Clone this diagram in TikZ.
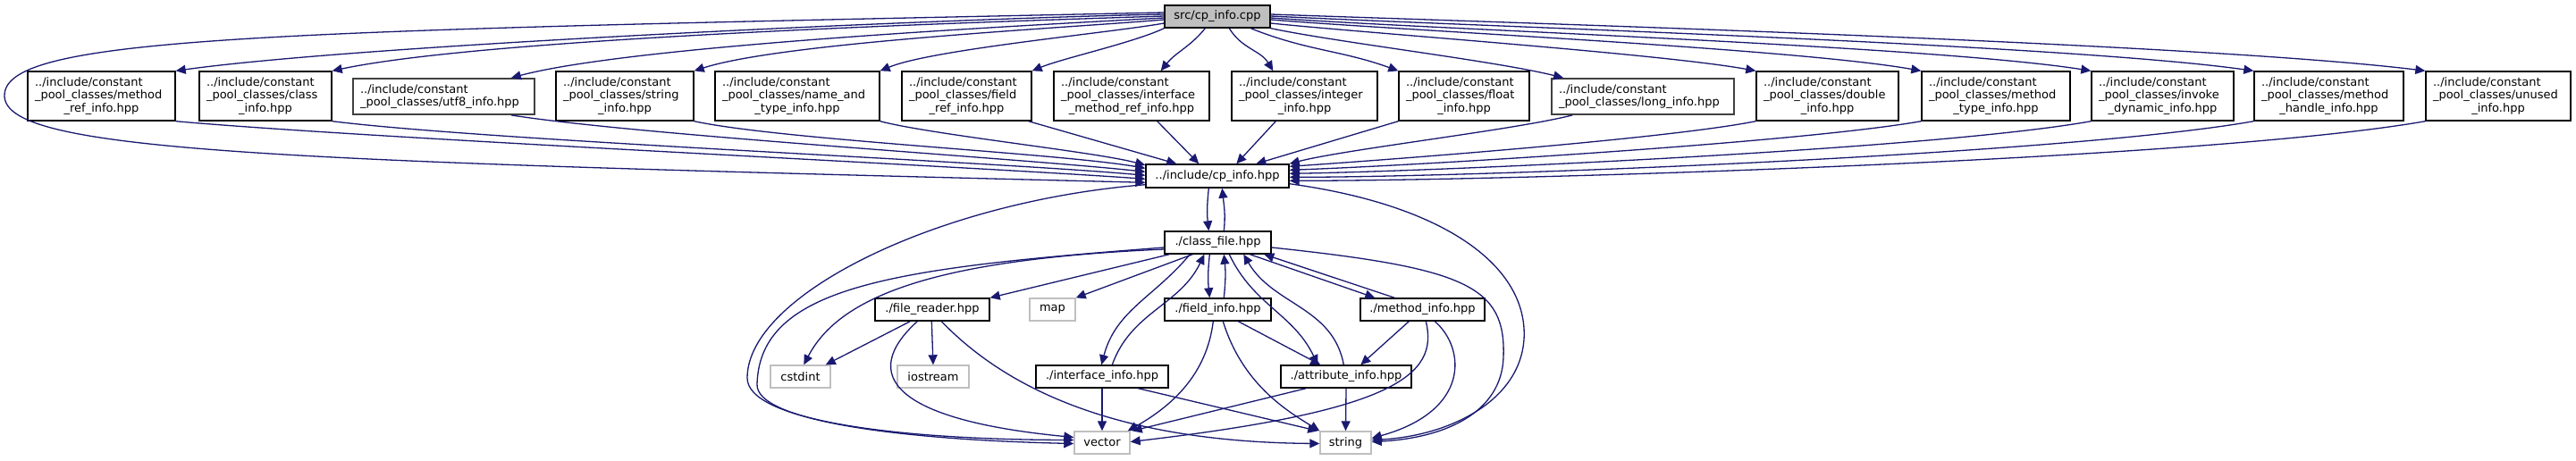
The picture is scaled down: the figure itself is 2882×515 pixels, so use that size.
\documentclass[tikz,border=0pt]{standalone}
\usepackage{fontspec}
\setmainfont{DejaVu Sans}
\usetikzlibrary{arrows.meta,calc}
\definecolor{edgec}{HTML}{191970}
\definecolor{gline}{HTML}{BFBFBF}
\definecolor{dline}{HTML}{404040}
\definecolor{cppfill}{HTML}{BFBFBF}
\newcommand\mlab[3]{\parindent=0pt\raggedright #1\\#2\par\centering #3\par}
\newcommand\tlab[2]{\parindent=0pt\raggedright #1\\#2\par}
\begin{document}
\begin{tikzpicture}[x=1pt,y=1pt,
 fb/.style={rectangle, draw=black, line width=1.4pt, fill=white, inner xsep=8pt, inner ysep=1pt, font=\fontsize{13}{14.5}\selectfont},
 gb/.style={fb, draw=gline},
 db/.style={fb, draw=dline, line width=1.7pt},
 one/.style={minimum height=25, inner xsep=0},
 e/.style={draw=edgec, line width=1.3pt, -{Triangle[length=11pt,width=10pt]}},
]
\fill[white] (0,0) rectangle (2882,-515);
\useasboundingbox (0,0) rectangle (2882,-515);

% top
\node[fb, one, fill=cppfill, minimum width=118] (cpp) at (1362,-18.5) {src/cp\_info.cpp};

% row 2
\node[fb, text width=149, minimum height=55] (mref) at (113.5,-107.5) {\mlab{../include/constant}{\_pool\_classes/method}{\_ref\_info.hpp}};
\node[fb, text width=132, minimum height=55] (cls) at (297,-107.5) {\mlab{../include/constant}{\_pool\_classes/class}{\_info.hpp}};
\node[db, text width=187, minimum height=40] (utf) at (496.5,-108) {\tlab{../include/constant}{\_pool\_classes/utf8\_info.hpp}};
\node[fb, text width=138, minimum height=55] (sinfo) at (699,-107.5) {\mlab{../include/constant}{\_pool\_classes/string}{\_info.hpp}};
\node[fb, text width=168, minimum height=55] (nat) at (892,-107.5) {\mlab{../include/constant}{\_pool\_classes/name\_and}{\_type\_info.hpp}};
\node[fb, text width=129, minimum height=55] (fref) at (1081.5,-107.5) {\mlab{../include/constant}{\_pool\_classes/field}{\_ref\_info.hpp}};
\node[fb, text width=158, minimum height=55] (imref) at (1266,-107.5) {\mlab{../include/constant}{\_pool\_classes/interface}{\_method\_ref\_info.hpp}};
\node[fb, text width=147, minimum height=55] (intg) at (1459.5,-107.5) {\mlab{../include/constant}{\_pool\_classes/integer}{\_info.hpp}};
\node[fb, text width=130, minimum height=55] (flt) at (1638,-107.5) {\mlab{../include/constant}{\_pool\_classes/float}{\_info.hpp}};
\node[db, text width=188, minimum height=40] (lng) at (1838,-108) {\tlab{../include/constant}{\_pool\_classes/long\_info.hpp}};
\node[fb, text width=143, minimum height=55] (dbl) at (2044.5,-107.5) {\mlab{../include/constant}{\_pool\_classes/double}{\_info.hpp}};
\node[fb, text width=150, minimum height=55] (mtype) at (2233,-107.5) {\mlab{../include/constant}{\_pool\_classes/method}{\_type\_info.hpp}};
\node[fb, text width=143, minimum height=55] (indy) at (2419.5,-107.5) {\mlab{../include/constant}{\_pool\_classes/invoke}{\_dynamic\_info.hpp}};
\node[fb, text width=151, minimum height=55] (mh) at (2605.5,-107.5) {\mlab{../include/constant}{\_pool\_classes/method}{\_handle\_info.hpp}};
\node[fb, text width=146, minimum height=55] (unu) at (2795,-107.5) {\mlab{../include/constant}{\_pool\_classes/unused}{\_info.hpp}};

% lower part
\node[fb, one, minimum width=160, minimum height=26] (cphpp) at (1362,-197) {../include/cp\_info.hpp};
\node[fb, one, minimum width=119] (cf) at (1362.5,-271.5) {./class\_file.hpp};
\node[fb, one, minimum width=128] (fr) at (1043,-346.5) {./file\_reader.hpp};
\node[gb, one, minimum width=51] (map) at (1177.5,-346.5) {map};
\node[fb, one, minimum width=119] (fi) at (1362.5,-346.5) {./field\_info.hpp};
\node[fb, one, minimum width=139] (mi) at (1591.5,-346.5) {./method\_info.hpp};
\node[gb, one, minimum width=67] (cs) at (895.5,-421.5) {cstdint};
\node[gb, one, minimum width=80] (io) at (1044,-421.5) {iostream};
\node[fb, one, minimum width=148] (iface) at (1233,-421.5) {./interface\_info.hpp};
\node[fb, one, minimum width=146] (at) at (1506,-421.5) {./attribute\_info.hpp};
\node[gb, one, minimum width=62] (vec) at (1233,-495.5) {vector};
\node[gb, one, minimum width=57] (sstr) at (1505.5,-495.5) {string};

% cpp -> row 2
\draw[e] ([yshift=2.5]cpp.west) .. controls +(-217,-4) and +(215,30) .. (mref.north east);
\draw[e] ([yshift=.5]cpp.west) .. controls +(-183,-6) and +(179,38) .. (cls.north east);
\draw[e] ([yshift=-1.5]cpp.west) .. controls +(-144,-8) and +(139,37) .. ([xshift=-27]utf.north east);
\draw[e] ([yshift=-3.5]cpp.west) .. controls +(-104,-9) and +(99,32) .. (sinfo.north east);
\draw[e] ([yshift=-7.5]cpp.west) .. controls +(-62,-11) and +(58,24) .. (nat.north east);
\draw[e] (cpp.south west) .. controls +(-34,-16) and +(34,14) .. (fref.north east);
\draw[e] ([xshift=46]cpp.south west) .. controls +(-17,-21) and +(17,21) .. ([xshift=-55]imref.north east);
\draw[e] ([xshift=73]cpp.south west) .. controls +(14,-23) and +(-14,23) .. ([xshift=47]intg.north west);
\draw[e] ([xshift=97]cpp.south west) .. controls +(62,-25) and +(-63,23) .. (flt.north west);
\draw[e] (cpp.south east) .. controls +(76,-16) and +(-76,19) .. ([xshift=14]lng.north west);
\draw[e] ([yshift=-7.5]cpp.east) .. controls +(106,-11) and +(-105,19) .. (dbl.north west);
\draw[e] ([yshift=-3.5]cpp.east) .. controls +(142,-12) and +(-141,25) .. (mtype.north west);
\draw[e] ([yshift=-1.5]cpp.east) .. controls +(180,-13) and +(-178,28) .. (indy.north west);
\draw[e] ([yshift=.5]cpp.east) .. controls +(216,-11) and +(-214,30) .. (mh.north west);
\draw[e] ([yshift=2.5]cpp.east) .. controls +(253,-9) and +(-251,31) .. (unu.north west);
\draw[e] ([yshift=4.5]cpp.west) .. controls (300,-35) and (5,-40) .. (5,-107) .. controls (5,-170) and (300,-180) .. ([yshift=-21]cphpp.north west);

% row 2 -> cp_info.hpp
\draw[e] (mref.south east) .. controls +(212,-19) and +(-212,15) .. ([yshift=-17]cphpp.north west);
\draw[e] (cls.south east) .. controls +(178,-22) and +(-178,16) .. ([yshift=-13]cphpp.north west);
\draw[e] ([xshift=-27]utf.south east) .. controls +(138,-22) and +(-139,15) .. ([yshift=-9]cphpp.north west);
\draw[e] (sinfo.south east) .. controls +(98,-21) and +(-98,17) .. ([yshift=-5]cphpp.north west);
\draw[e] (nat.south east) .. controls +(57,-15) and +(-57,15) .. ([yshift=-1.5]cphpp.north west);
\draw[e] ([xshift=-4]fref.south east) -- ([xshift=35]cphpp.north west);
\draw[e] ([xshift=-59]imref.south east) -- ([xshift=60]cphpp.north west);
\draw[e] ([xshift=50]intg.south west) -- ([xshift=102]cphpp.north west);
\draw[e] (flt.south west) -- ([xshift=124]cphpp.north west);
\draw[e] ([xshift=24]lng.south west) .. controls +(-61,-16) and +(61,16) .. (cphpp.north east);
\draw[e] (dbl.south west) .. controls +(-101,-20) and +(103,7) .. ([yshift=-3]cphpp.north east);
\draw[e] (mtype.south west) .. controls +(-137,-24) and +(139,5) .. ([yshift=-7]cphpp.north east);
\draw[e] (indy.south west) .. controls +(-173,-31) and +(176,3) .. ([yshift=-11]cphpp.north east);
\draw[e] (mh.south west) .. controls +(-209,-37) and +(212,0) .. ([yshift=-15]cphpp.north east);
\draw[e] (unu.south west) .. controls +(-245,-43) and +(249,0) .. ([yshift=-19]cphpp.north east);

% cp_info.hpp <-> class_file
\draw[e] ([xshift=71]cphpp.south west) .. controls +(-2,-19) and +(-2,19) .. ([xshift=50]cf.north west);
\draw[e] ([xshift=67]cf.north west) .. controls +(2,19) and +(2,-19) .. ([xshift=86]cphpp.south west);
\draw[e] ([yshift=4]cphpp.south west) .. controls (1050,-225) and (836,-330) .. (836,-423) .. controls (836,-470) and (1000,-492) .. ([yshift=3]vec.west);
\draw[e] ([yshift=5]cphpp.south east) .. controls (1620,-230) and (1710,-300) .. (1705,-380) .. controls (1700,-450) and (1620,-488) .. ([yshift=3]sstr.east);

% class_file ->
\draw[e] ([yshift=-5.5]cf.west) .. controls (1000,-300) and (850,-320) .. (847,-430) .. controls (845,-470) and (1000,-492) .. ([yshift=-1]vec.west);
\draw[e] ([yshift=-7.5]cf.west) .. controls (1050,-290) and (940,-330) .. ([xshift=38]cs.north west);
\draw[e] ([xshift=6]cf.south west) -- (fr.north east);
\draw[e] ([xshift=32]cf.south west) -- (map.north east);
\draw[e] ([xshift=29]cf.south west) .. controls +(-40,-48) and +(16,61) .. ([xshift=74]iface.north west);
\draw[e] ([xshift=86]iface.north west) .. controls +(21,59) and +(-27,-57) .. ([xshift=45]cf.south west);
\draw[e] ([xshift=51]cf.south west) .. controls +(-2,-20) and +(-2,20) .. ([xshift=51]fi.north west);
\draw[e] ([xshift=67]fi.north west) .. controls +(2,20) and +(2,-20) .. ([xshift=67]cf.south west);
\draw[e] ([xshift=73]cf.south west) .. controls +(27,-57) and +(-27,57) .. ([xshift=42]at.north west);
\draw[e] ([xshift=71]at.north west) .. controls +(-12,65) and +(33,-57) .. ([xshift=89]cf.south west);
\draw[e] ([xshift=96]cf.south west) -- ([xshift=17]mi.north west);
\draw[e] ([xshift=39]mi.north west) -- ([xshift=112]cf.south west);
\draw[e] ([yshift=-5.5]cf.east) .. controls (1640,-300) and (1685,-320) .. (1682,-400) .. controls (1680,-460) and (1620,-490) .. ([yshift=1]sstr.east);

% file_reader ->
\draw[e] ([xshift=40]fr.south west) -- ([xshift=-6]cs.north east);
\draw[e] ([xshift=64]fr.south west) -- (io.north);
\draw[e] ([xshift=48]fr.south west) .. controls (960,-420) and (1000,-470) .. ([yshift=6]vec.west);
\draw[e] ([xshift=75]fr.south west) .. controls (1150,-460) and (1300,-495) .. ([yshift=-1]sstr.west);

% field_info ->
\draw[e] ([xshift=83]fi.south west) -- ([xshift=45]at.north west);
\draw[e] ([xshift=55]fi.south west) .. controls (1350,-420) and (1310,-455) .. ([xshift=-3]vec.north east);
\draw[e] ([xshift=66]fi.south west) .. controls (1390,-430) and (1440,-460) .. (sstr.north west);

% method_info ->
\draw[e] ([xshift=55]mi.south west) -- ([xshift=90]at.north west);
\draw[e] ([xshift=84]mi.south west) .. controls (1640,-390) and (1645,-460) .. ([yshift=5]sstr.east);
\draw[e] ([xshift=74]mi.south west) .. controls (1610,-420) and (1560,-460) .. ([yshift=1]vec.east);

% interface_info ->
\draw[e] (iface.south) -- (vec.north);
\draw[e] ([xshift=115]iface.south west) -- ([xshift=-2]sstr.north west);

% attribute_info ->
\draw[e] ([xshift=29]at.south west) -- ([xshift=2]vec.north east);
\draw[e] (at.south) -- (sstr.north);
\end{tikzpicture}
\end{document}
